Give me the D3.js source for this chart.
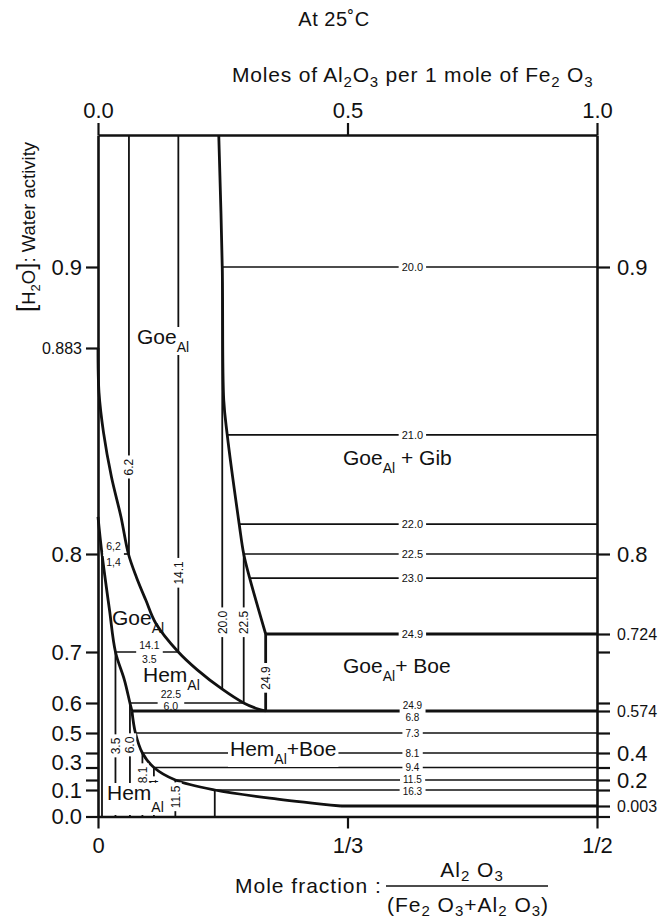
<!DOCTYPE html>
<html>
<head>
<meta charset="utf-8">
<script src="https://cdn.jsdelivr.net/npm/d3@7"></script>
<style>
body { margin: 0; background: #fff; }
svg { font-family: "Liberation Sans", Arial, Helvetica, sans-serif; }
</style>
</head>
<body>
<svg id="chart" width="666" height="918"></svg>
<script>
// ---- data: x = moles Al2O3 per mole Fe2O3, y = water activity ----
var topTicks = [0, 0.5, 1.0];
var topLabels = ["0.0", "0.5", "1.0"];
var bottomTicks = [0, 0.5, 1.0];
var bottomLabels = ["0", "1/3", "1/2"];
var leftTicks = [0.9, 0.883, 0.8, 0.7, 0.6, 0.5, 0.4, 0.3, 0.2, 0.1, 0.0];
var leftLabels = ["0.9", "0.883", "0.8", "0.7", "0.6", "0.5", "", "0.3", "", "0.1", "0.0"];
var rightTicks = [0.9, 0.8, 0.724, 0.7, 0.6, 0.574, 0.5, 0.4, 0.3, 0.2, 0.1, 0.003, 0.0];
var rightLabels = ["0.9", "0.8", "0.724", "", "", "0.574", "", "0.4", "", "0.2", "", "0.003", ""];

// phase boundaries [ratio, activity]
var goeGibEdge = [[0.242, 1.0], [0.249, 0.9], [0.252, 0.862], [0.259, 0.848], [0.283, 0.812], [0.292, 0.8], [0.304, 0.777], [0.336, 0.724]];
var goeHemEdge = [[0, 0.883], [0.002, 0.865], [0.011, 0.849], [0.027, 0.831], [0.046, 0.815], [0.061, 0.8], [0.077, 0.778], [0.096, 0.756], [0.116, 0.734], [0.161, 0.7], [0.199, 0.665], [0.249, 0.627], [0.292, 0.6], [0.316, 0.583], [0.336, 0.574]];
var hemGoeEdge = [[0, 0.815], [0.008, 0.8], [0.023, 0.747], [0.035, 0.7], [0.053, 0.645], [0.064, 0.6], [0.068, 0.574]];
var hemBoeEdge = [[0.068, 0.574], [0.075, 0.5], [0.089, 0.4], [0.112, 0.3], [0.155, 0.2], [0.234, 0.1], [0.36, 0.045], [0.487, 0.003]];

// tie lines in Goe+Gib field
var gibTieA = [0.9, 0.848, 0.812, 0.8, 0.777];
var gibTieFrom = [0.249, 0.259, 0.283, 0.292, 0.304];
var gibTieLabels = ["20.0", "21.0", "22.0", "22.5", "23.0"];
// tie lines in Hem+Boe field
var boeTieA = [0.5, 0.4, 0.3, 0.2, 0.1];
var boeTieFrom = [0.075, 0.089, 0.112, 0.155, 0.234];
var boeTieLabels = ["7.3", "8.1", "9.4", "11.5", "16.3"];
// Goe+Hem tie lines
var ghTieA = [0.8, 0.7, 0.6];
var ghTieFrom = [0.008, 0.035, 0.064];
var ghTieTo = [0.061, 0.161, 0.292];
var ghTieGoe = ["6,2", "14.1", "22.5"];
var ghTieHem = ["1,4", "3.5", "6.0"];
// thick horizontal boundaries
var flatA = [0.724, 0.574, 0.003];
var flatFrom = [0.336, 0.068, 0.487];

// isopleths (vertical) in Goe field
var goeIsoR = [0.062, 0.161, 0.249, 0.292, 0.336];
var goeIsoTop = [1.0, 1.0, 0.9, 0.8, 0.724];
var goeIsoBot = [0.8, 0.7, 0.627, 0.6, 0.574];
var goeIsoLabels = ["6.2", "14.1", "20.0", "22.5", "24.9"];
// isopleths in Hem field (down to activity 0)
var hemIsoR = [0.008, 0.035, 0.064, 0.089, 0.112, 0.155, 0.234];
var hemIsoTop = [0.8, 0.7, 0.6, 0.4, 0.3, 0.2, 0.1];
var hemIsoLabels = ["", "3.5", "6.0", "8.1", "9.4", "11.5", ""];

// ---- drawing ----
var svg = d3.select("#chart");
var ink = "#111";

var x = d3.scaleLinear().domain([0, 1]).range([98, 597]);
var y = d3.scaleLinear()
    .domain([0, 0.003, 0.1, 0.2, 0.3, 0.4, 0.5, 0.574, 0.6, 0.7, 0.724, 0.8, 0.883, 0.9, 1.0])
    .range([816.5, 806, 790, 780, 767.5, 753, 733, 711, 703, 652, 634, 554, 348, 267, 135]);

var smooth = d3.line().x(function(d) { return x(d[0]); }).y(function(d) { return y(d[1]); })
    .curve(d3.curveCatmullRom.alpha(0.5));

var lines = svg.append("g").attr("fill", "none").attr("stroke", ink);

function seg(r0, a0, r1, a1, w) {
  lines.append("line")
      .attr("x1", x(r0)).attr("y1", y(a0))
      .attr("x2", x(r1)).attr("y2", y(a1))
      .attr("stroke-width", w);
}

// thin tie lines
gibTieA.forEach(function(a, i) { seg(gibTieFrom[i], a, 1, a, 1.7); });
boeTieA.forEach(function(a, i) { seg(boeTieFrom[i], a, 1, a, 1.7); });
ghTieA.forEach(function(a, i) { seg(ghTieFrom[i], a, ghTieTo[i], a, 1.7); });

// isopleths
goeIsoR.forEach(function(r, i) { seg(r, goeIsoTop[i], r, goeIsoBot[i], i == 4 ? 2.8 : 1.8); });
hemIsoR.forEach(function(r, i) { seg(r, hemIsoTop[i], r, 0, 1.8); });

// boundaries
flatA.forEach(function(a, i) { seg(flatFrom[i], a, 1, a, 2.8); });
[goeGibEdge, goeHemEdge, hemGoeEdge, hemBoeEdge].forEach(function(e) {
  lines.append("path").attr("d", smooth(e)).attr("stroke-width", 2.8);
});

// axes
function styleAxis(g) {
  g.select(".domain").attr("stroke", ink).attr("stroke-width", 2.6);
  g.selectAll(".tick line").attr("stroke", ink).attr("stroke-width", 2.2);
  g.selectAll(".tick text").attr("fill", ink).style("font-family", null)
      .style("font-size", function() { return this.textContent.length > 3 ? "16px" : "22px"; });
}

svg.append("g").attr("transform", "translate(0,135)")
    .call(d3.axisTop(x).tickValues(topTicks).tickFormat(function(d, i) { return topLabels[i]; })
      .tickSize(12).tickSizeOuter(0).tickPadding(5))
    .call(styleAxis);

svg.append("g").attr("transform", "translate(0,816.5)")
    .call(d3.axisBottom(x).tickValues(bottomTicks).tickFormat(function(d, i) { return bottomLabels[i]; })
      .tickSize(12).tickSizeOuter(0).tickPadding(9))
    .call(styleAxis);

var leftAxis = svg.append("g").attr("transform", "translate(98,0)")
    .call(d3.axisLeft(y).tickValues(leftTicks).tickFormat(function(d, i) { return leftLabels[i]; })
      .tickSize(12).tickSizeOuter(0).tickPadding(4))
    .call(styleAxis);
// the crowded 0.3 label sits a little above its tick, as in the original
leftAxis.selectAll(".tick text").filter(function() { return this.textContent == "0.3"; }).attr("y", -5);

svg.append("g").attr("transform", "translate(597,0)")
    .call(d3.axisRight(y).tickValues(rightTicks).tickFormat(function(d, i) { return rightLabels[i]; })
      .tickSize(13).tickSizeOuter(0).tickPadding(7))
    .call(styleAxis);

// ---- labels ----
var notes = svg.append("g").attr("fill", ink);

function boxed(px, py, str, size, rot) {
  var g = notes.append("g").attr("transform", "translate(" + px + "," + py + ")" + (rot ? " rotate(" + rot + ")" : ""));
  var t = g.append("text").attr("text-anchor", "middle").attr("dy", "0.36em")
      .style("font-size", size + "px").text(str);
  var b = t.node().getBBox();
  g.insert("rect", "text").attr("x", b.x - 3).attr("y", b.y + 1)
      .attr("width", b.width + 6).attr("height", b.height - 2).attr("fill", "#fff");
}

function stacked(px, py, upper, lower, dUp, dDown, size) {
  var g = notes.append("g").attr("transform", "translate(" + px + "," + py + ")");
  var t1 = g.append("text").attr("text-anchor", "middle").attr("y", dUp).attr("dy", "0.36em")
      .style("font-size", size + "px").text(upper);
  var t2 = g.append("text").attr("text-anchor", "middle").attr("y", dDown).attr("dy", "0.36em")
      .style("font-size", size + "px").text(lower);
  var b1 = t1.node().getBBox(), b2 = t2.node().getBBox();
  var x0 = Math.min(b1.x, b2.x) - 3, x1 = Math.max(b1.x + b1.width, b2.x + b2.width) + 3;
  g.insert("rect", "text").attr("x", x0).attr("y", -2).attr("width", x1 - x0).attr("height", 4).attr("fill", "#fff");
}

var tieLabelR = 0.63;
gibTieA.forEach(function(a, i) { boxed(x(tieLabelR), y(a), gibTieLabels[i], 11); });
boxed(x(tieLabelR), y(0.724), "24.9", 11);
var boeNudge = [0, 0, 0, -1, 1.5];
boeTieA.forEach(function(a, i) { boxed(x(tieLabelR), y(a) + boeNudge[i], boeTieLabels[i], 10); });
stacked(x(tieLabelR), y(0.574), "24.9", "6.8", -6, 6, 10);

var ghLabelR = [0.031, 0.103, 0.146];
var ghOffsets = [[-8, 8], [-7, 7], [-8.5, 3]];
ghTieA.forEach(function(a, i) {
  stacked(x(ghLabelR[i]), y(a), ghTieGoe[i], ghTieHem[i], ghOffsets[i][0], ghOffsets[i][1], 10.5);
});

var goeIsoLabelA = [0.835, 0.782, 0.735, 0.735, 0.649];
goeIsoR.forEach(function(r, i) { boxed(x(r), y(goeIsoLabelA[i]), goeIsoLabels[i], 12, -90); });
var hemIsoLabelA = [0, 0.435, 0.44, 0.24, 0.12, 0.058, 0];
hemIsoR.forEach(function(r, i) {
  if (hemIsoLabels[i]) boxed(x(r), y(hemIsoLabelA[i]), hemIsoLabels[i], 12, -90);
});

// phase names with subscript Al
function phase(px, py, before, after, subDy, bg) {
  var g = notes.append("g");
  var t = g.append("text").attr("x", px).attr("y", py).style("font-size", "21px");
  t.append("tspan").text(before);
  t.append("tspan").attr("dy", subDy).style("font-size", "14px").text("Al");
  if (after) t.append("tspan").attr("dy", -subDy).text(after);
  if (bg) {
    var b = t.node().getBBox();
    g.insert("rect", "text").attr("x", b.x - 2).attr("y", b.y + 2)
        .attr("width", b.width + 4).attr("height", b.height - 2).attr("fill", "#fff");
  }
}

phase(137, 344, "Goe", "", 8, true);
phase(343, 465, "Goe", " + Gib", 8, false);
phase(112, 625, "Goe", "", 8, false);
phase(143, 682, "Hem", "", 8, false);
phase(343, 673, "Goe", "+ Boe", 8, false);
phase(230, 756, "Hem", "+Boe", 8, true);
phase(107, 800, "Hem", "", 12, true);

// titles
svg.append("text").attr("x", 334).attr("y", 26).attr("text-anchor", "middle")
    .style("font-size", "20px").style("letter-spacing", "0.5px").attr("fill", ink).text("At 25\u02daC");

var topTitle = svg.append("text").attr("x", 232).attr("y", 82).style("font-size", "21px")
    .style("letter-spacing", "0.8px").attr("fill", ink);
topTitle.append("tspan").text("Moles  of  Al");
topTitle.append("tspan").attr("dy", 5).style("font-size", "15px").text("2");
topTitle.append("tspan").attr("dy", -5).text("O");
topTitle.append("tspan").attr("dy", 5).style("font-size", "15px").text("3");
topTitle.append("tspan").attr("dy", -5).text(" per 1 mole of Fe");
topTitle.append("tspan").attr("dy", 5).style("font-size", "15px").text("2");
topTitle.append("tspan").attr("dy", -5).text(" O");
topTitle.append("tspan").attr("dy", 5).style("font-size", "15px").text("3");

var yTitle = svg.append("text").attr("transform", "translate(35,312) rotate(-90)")
    .style("font-size", "18.5px").attr("fill", ink);
yTitle.append("tspan").style("font-size", "26px").text("[");
yTitle.append("tspan").text("H");
yTitle.append("tspan").attr("dy", 5).style("font-size", "13px").text("2");
yTitle.append("tspan").attr("dy", -5).text("O");
yTitle.append("tspan").style("font-size", "26px").text("]");
yTitle.append("tspan").text(": Water activity");

var bt = svg.append("g").attr("fill", ink).style("letter-spacing", "1px");
bt.append("text").attr("x", 235).attr("y", 893).style("font-size", "21px").text("Mole fraction :");
var num = bt.append("text").attr("x", 472).attr("y", 877).attr("text-anchor", "middle").style("font-size", "21px");
num.append("tspan").text("Al");
num.append("tspan").attr("dy", 4).style("font-size", "15px").text("2");
num.append("tspan").attr("dy", -4).text(" O");
num.append("tspan").attr("dy", 4).style("font-size", "15px").text("3");
bt.append("line").attr("x1", 386).attr("x2", 548).attr("y1", 886).attr("y2", 886)
    .attr("stroke", ink).attr("stroke-width", 1.5);
var den = bt.append("text").attr("x", 468).attr("y", 912).attr("text-anchor", "middle").style("font-size", "21px");
den.append("tspan").text("(Fe");
den.append("tspan").attr("dy", 4).style("font-size", "15px").text("2");
den.append("tspan").attr("dy", -4).text(" O");
den.append("tspan").attr("dy", 4).style("font-size", "15px").text("3");
den.append("tspan").attr("dy", -4).text("+Al");
den.append("tspan").attr("dy", 4).style("font-size", "15px").text("2");
den.append("tspan").attr("dy", -4).text(" O");
den.append("tspan").attr("dy", 4).style("font-size", "15px").text("3");
den.append("tspan").attr("dy", -4).text(")");
</script>
</body>
</html>
